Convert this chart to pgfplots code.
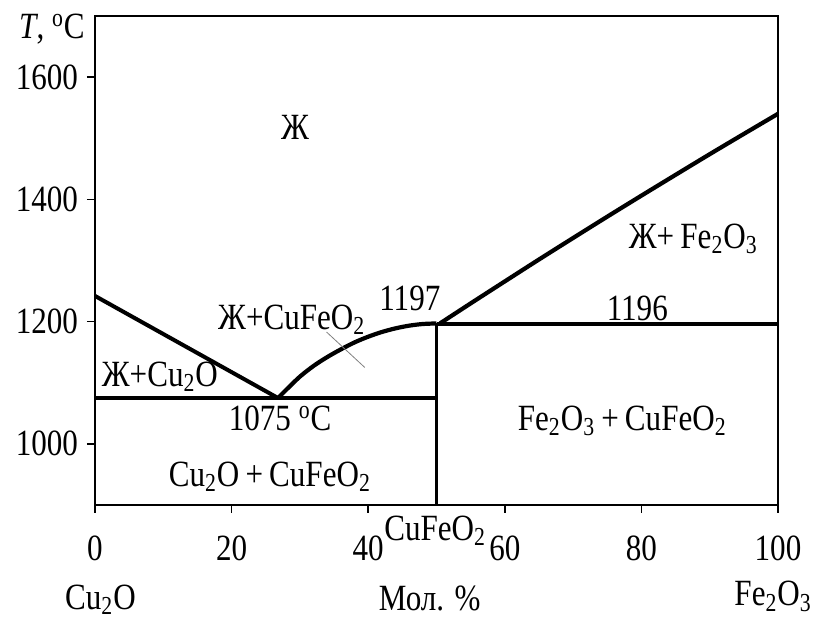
\documentclass[border=0pt]{standalone}
\usepackage{fontspec}
\setmainfont{Liberation Serif}[FakeStretch=0.84]
\usepackage{pgfplots}
\pgfplotsset{compat=1.18}
\newcommand{\fs}{\fontsize{18.5}{21}\selectfont}
\newcommand{\sub}[1]{\textsubscript{#1}}
\begin{document}
\begin{tikzpicture}
\useasboundingbox (-47.5pt,-57pt) rectangle (359.5pt,252.5pt);
\begin{axis}[
 scale only axis, width=341.5pt, height=244.5pt,
 xmin=0, xmax=100, ymin=900, ymax=1700,
 xtick={0,20,...,100}, ytick={1000,1200,1400,1600},
 tick align=outside, xtick pos=left, ytick pos=left,
 major tick length=4pt,
 axis line style={line width=1pt},
 tick style={line width=0.8pt,black},
 ticklabel style={font=\fs},
 /pgf/number format/assume math mode=true,
 /pgf/number format/1000 sep={},
 xticklabel style={yshift=-8pt},
 yticklabel style={xshift=-1pt},
 clip=false,
]
\addplot[line width=2pt] coordinates {(0,1242) (26.8,1075)};
\addplot[line width=1.7pt] coordinates {(0,1075) (50,1075)};
\addplot[line width=2.1pt, smooth] coordinates {(26.8,1075) (28,1088.5) (30,1110) (32,1127.5) (34,1142) (36,1154.6) (38,1166) (40,1175.3) (42,1183) (44,1189) (46,1193.4) (48,1196.1) (50,1197)};
\addplot[line width=1.7pt] coordinates {(50,900) (50,1197)};
\addplot[line width=1.7pt] coordinates {(50,1196) (100,1196)};
\addplot[line width=2.1pt, smooth] coordinates {(50.5,1197) (55,1229.8) (60,1265.8) (65,1301.6) (70,1336.8) (75,1371.7) (80,1406.1) (85,1440.1) (90,1473.9) (95,1507.1) (100,1540)};
\addplot[gray, line width=0.4pt] coordinates {(33.9,1183) (39.5,1125)};

\node[font=\fs] at (axis cs:29.3,1518) {Ж};
\node[font=\fs] at (axis cs:87.6,1335) {Ж+\,Fe\sub{2}O\sub{3}};
\node[font=\fs] at (axis cs:46.1,1238) {1197};
\node[font=\fs] at (axis cs:79.4,1221) {1196};
\node[font=\fs] at (axis cs:28.8,1203) {Ж+CuFeO\sub{2}};
\node[font=\fs] at (axis cs:9.5,1110) {Ж+Cu\sub{2}O};
\node[font=\fs] at (axis cs:27.1,1041) {1075 \textsuperscript{o}C};
\node[font=\fs] at (axis cs:25.6,946) {Cu\sub{2}O\,+\,CuFeO\sub{2}};
\node[font=\fs] at (axis cs:77.2,1038) {Fe\sub{2}O\sub{3}\,+\,CuFeO\sub{2}};
\node[font=\fs] at (axis cs:49.8,858) {CuFeO\sub{2}};
\node[font=\fs, anchor=base] at (axis cs:0.8,729) {Cu\sub{2}O};
\node[font=\fs, anchor=base] at (axis cs:49,727) {Мол. \%};
\node[font=\fs, anchor=base east, inner sep=0pt] at (axis cs:105,735) {Fe\sub{2}O\sub{3}};
\node[font=\fs] at (axis cs:-6.3,1678) {\textit{T}, \textsuperscript{o}C};
\end{axis}
\end{tikzpicture}
\end{document}
